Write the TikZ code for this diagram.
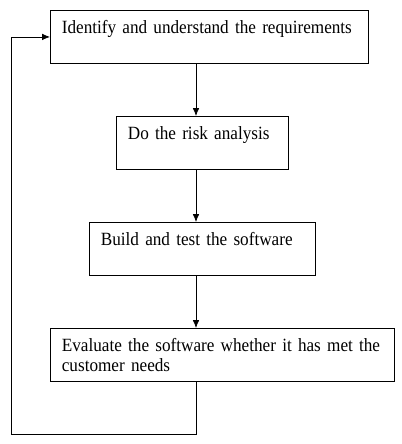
\documentclass[tikz,border=0pt]{standalone}
\usepackage{fontspec}
\setmainfont[FakeStretch=0.92]{Liberation Serif}
\usetikzlibrary{arrows.meta}

\newcommand\stagefont{\fontsize{14}{15}\selectfont\spaceskip 2.6pt plus 1pt\relax}

\tikzset{
  stage/.style={draw, anchor=north west, align=left, line width=0.6pt,
    inner xsep=8.6pt, inner ysep=0pt, text height=17pt, text depth=22.8pt,
    font=\stagefont},
  flow/.style={-{Latex[length=6pt,width=5pt]}, line width=0.6pt}
}

\begin{document}
\begin{tikzpicture}[x=0.75pt,y=-0.75pt]
\useasboundingbox (0,0) rectangle (402,444);

\node[stage, text width=221.25pt] (id) at (50,10) {Identify and understand the requirements};
\node[stage, text width=111.75pt] (risk) at (116,116) {Do the risk analysis};
\node[stage, text width=152.25pt] (build) at (89,222) {Build and test the software};
\node[stage, text width=240.75pt] (eval) at (50,328) {Evaluate the software whether it has met the\\customer needs};

\coordinate (ax) at (196,0);
\coordinate (lp) at (11,434);

\draw [flow] (id.south -| ax) -- (risk.north -| ax);
\draw [flow] (risk.south -| ax) -- (build.north -| ax);
\draw [flow] (build.south -| ax) -- (eval.north -| ax);

%\draw [flow] (eval.south) -- (id.west);
\draw [flow] (eval.south -| ax) |- (lp) |- (id.west);

\end{tikzpicture}
\end{document}
